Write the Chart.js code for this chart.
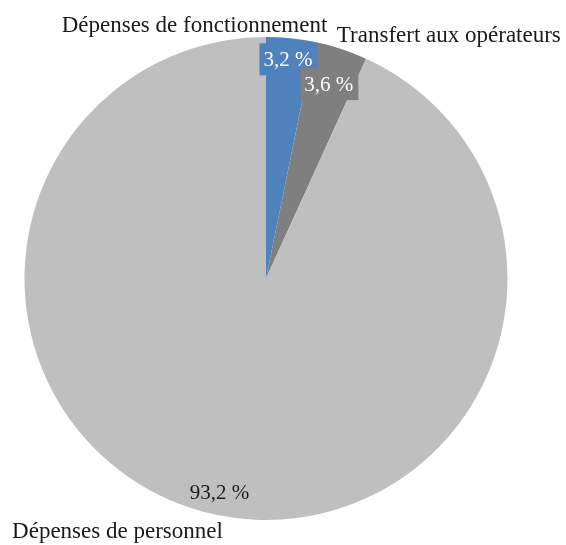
<!DOCTYPE html>
<html>
<head>
<meta charset="utf-8">
<script src="https://cdn.jsdelivr.net/npm/chart.js@4"></script>
<style>
  html, body { margin: 0; padding: 0; background: #fff; }
  #wrap { width: 566px; height: 545px; }
</style>
</head>
<body>
<div id="wrap"><canvas id="myPie"></canvas></div>
<script>
    // data
    const categories = ['Dépenses de fonctionnement', 'Transfert aux opérateurs', 'Dépenses de personnel'];
    const shares = [3.2, 3.6, 93.2];
    const valueLabels = ['3,2 %', '3,6 %', '93,2 %'];

    const sliceColors = ['rgb(79,129,189)', 'rgb(127,127,127)', 'rgb(191,191,191)'];
    const valueText = ['#fff', '#fff', '#1a1a1a'];
    const valueBox = [true, true, false];
    const valueDist = [0.908, 0.842, 0.909]; // fraction of radius along mid angle
    // category label offset from value label (px)
    const catOffset = [[-93.5, -34], [120, -49], [-102, 39]];

    const FONT = '"Liberation Serif", "DejaVu Serif", serif';

    const labelPlugin = {
      id: 'sliceLabels',
      afterDraw(chart) {
        const ctx = chart.ctx;
        const arcs = chart.getDatasetMeta(0).data;
        ctx.save();
        ctx.textAlign = 'center';
        ctx.textBaseline = 'middle';
        arcs.forEach((arc, i) => {
          const p = arc.getProps(['x', 'y', 'startAngle', 'endAngle', 'outerRadius'], true);
          const mid = (p.startAngle + p.endAngle) / 2;
          const r = p.outerRadius * valueDist[i];
          const lx = p.x + Math.cos(mid) * r;
          const ly = p.y + Math.sin(mid) * r;

          ctx.font = '21px ' + FONT;
          const w = ctx.measureText(valueLabels[i]).width;
          if (valueBox[i]) {
            ctx.fillStyle = sliceColors[i];
            ctx.fillRect(lx - w / 2 - 4, ly - 17, w + 9, 32);
          }
          ctx.fillStyle = valueText[i];
          ctx.fillText(valueLabels[i], lx, ly);

          ctx.font = '23px ' + FONT;
          ctx.fillStyle = '#1a1a1a';
          ctx.fillText(categories[i], lx + catOffset[i][0], ly + catOffset[i][1]);
        });
        ctx.restore();
      }
    };

    const config = {
      type: 'pie',
      data: {
        labels: categories,
        datasets: [{
          data: shares,
          backgroundColor: sliceColors,
          borderWidth: 0
        }]
      },
      options: {
        responsive: true,
        maintainAspectRatio: false,
        animation: false,
        layout: { padding: { left: 24.5, right: 58.5, top: 37, bottom: 25 } },
        plugins: {
          legend: { display: false },
          tooltip: { enabled: false }
        }
      },
      plugins: [labelPlugin]
    };

    const myPie = new Chart(document.getElementById('myPie'), config);
</script>
</body>
</html>
